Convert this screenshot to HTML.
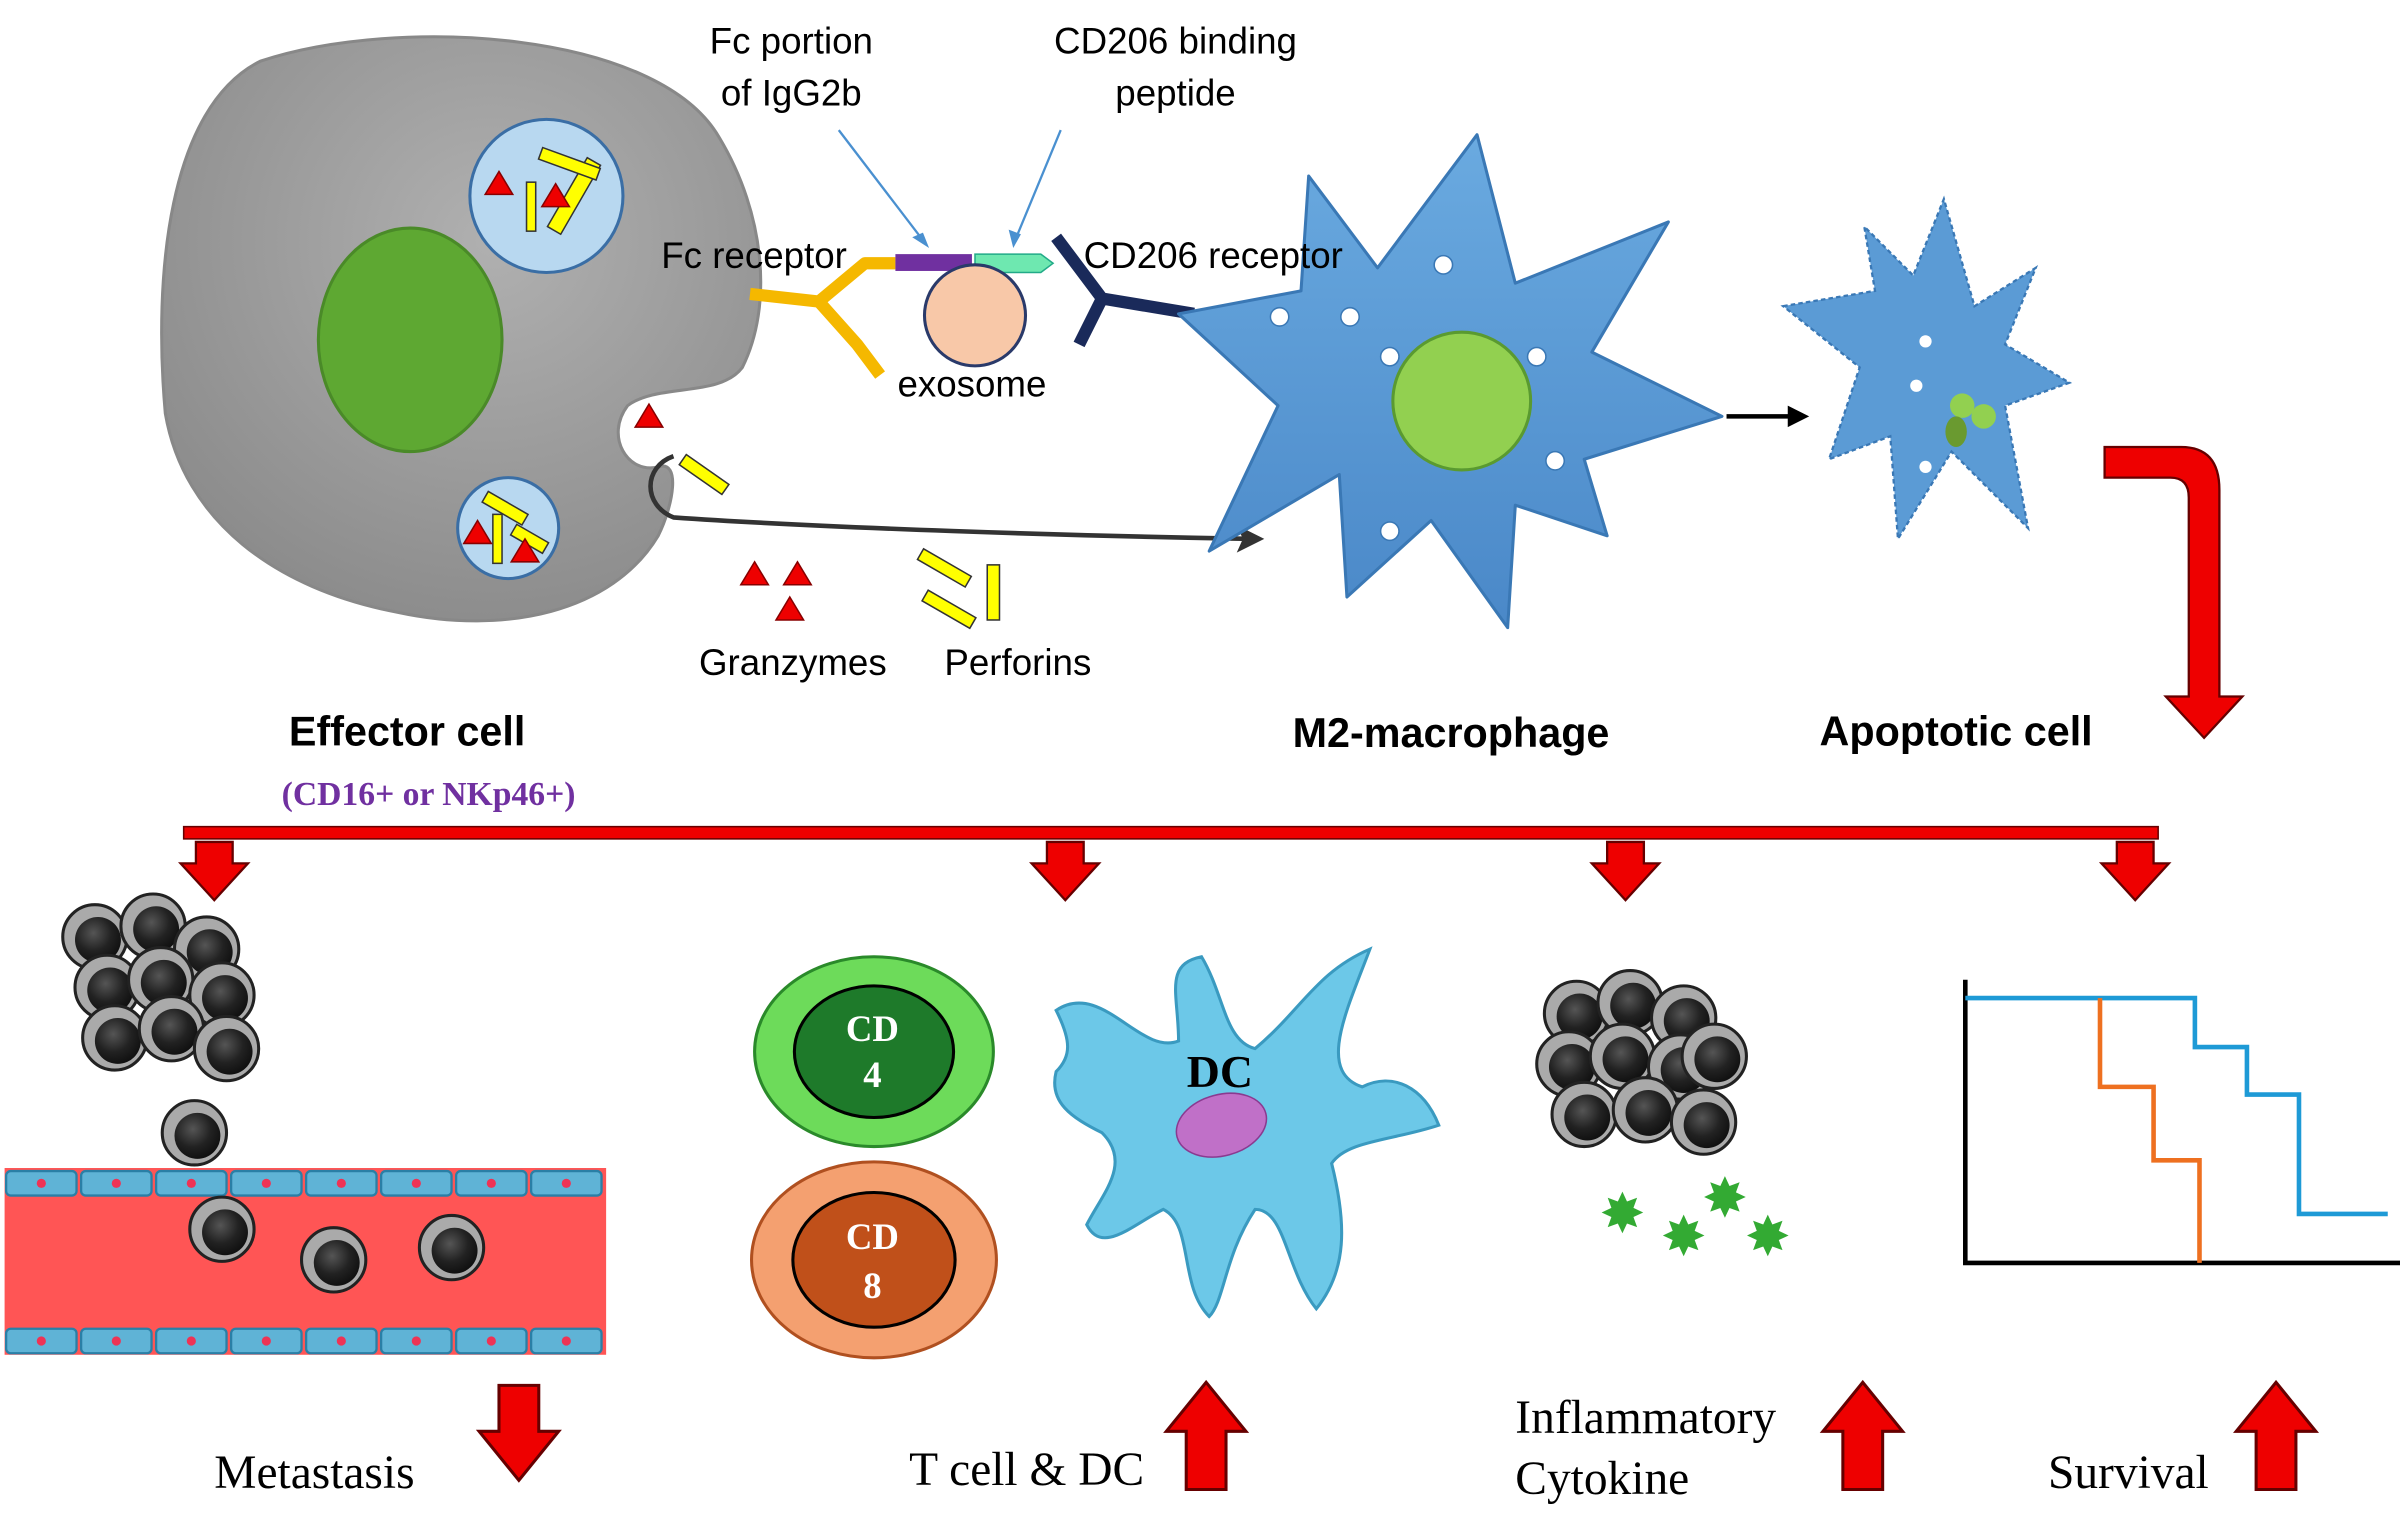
<!DOCTYPE html>
<html><head><meta charset="utf-8"><style>
html,body{margin:0;padding:0;background:#fff;}
svg{display:block}
.s{font-family:"Liberation Sans",sans-serif;}
.r{font-family:"Liberation Serif",serif;}
</style></head><body>
<svg width="2400" height="1540" viewBox="0 0 1568 1006" preserveAspectRatio="none" xmlns="http://www.w3.org/2000/svg">
<defs>
<radialGradient id="tc" cx="40%" cy="35%" r="65%"><stop offset="0" stop-color="#555"/><stop offset="0.6" stop-color="#222"/><stop offset="1" stop-color="#111"/></radialGradient>
<radialGradient id="gc" cx="55%" cy="35%" r="70%"><stop offset="0" stop-color="#b0b0b0"/><stop offset="1" stop-color="#8a8a8a"/></radialGradient>
<linearGradient id="mc" x1="0" y1="0" x2="0" y2="1"><stop offset="0" stop-color="#6aaae0"/><stop offset="1" stop-color="#4a88c8"/></linearGradient>
<g id="tum"><circle r="21" fill="#aaa" stroke="#222" stroke-width="2"/><circle r="15" cx="2" cy="2" fill="url(#tc)"/></g>
<g id="dn"><polygon points="-12,0 12,0 12,14 22,14 0,38 -22,14 -12,14" fill="#e00" stroke="#600" stroke-width="1.5"/></g>
<g id="up"><polygon points="-13,70 13,70 13,32 26,32 0,0 -26,32 -13,32" fill="#e00" stroke="#600" stroke-width="2"/></g>
<g id="yb"><rect x="-3" y="-16" width="6" height="32" fill="#ff0" stroke="#333" stroke-width="1"/></g>
<g id="rt"><polygon points="0,-8 9,7 -9,7" fill="#e00" stroke="#800" stroke-width="1"/></g>
<g id="ec"><rect x="0" y="0" width="46" height="16" rx="3" fill="#5fb3d6" stroke="#2a7fa6" stroke-width="1.5"/><circle cx="23" cy="8" r="3" fill="#e35"/></g>
</defs>
<rect width="1568" height="1006" fill="#fff"/>
<path d="M170,40 C260,10 430,20 470,90 C500,140 505,200 485,240 C470,260 430,250 410,265 C395,285 410,310 430,305 C445,300 440,330 430,350 C400,400 330,415 260,400 C180,385 120,340 108,270 C100,180 110,70 170,40 Z" fill="url(#gc)" stroke="#888" stroke-width="2"/>
<ellipse cx="268" cy="222" rx="60" ry="73" fill="#5ea832" stroke="#4a8a28" stroke-width="2"/>
<circle cx="357" cy="128" r="50" fill="#b8d8f0" stroke="#3a6ea5" stroke-width="2"/>
<g transform="translate(375,128) rotate(30)"><rect x="-5" y="-26" width="10" height="52" fill="#ff0" stroke="#333"/></g>
<g transform="translate(372,107) rotate(-70)"><rect x="-4" y="-20" width="8" height="40" fill="#ff0" stroke="#333"/></g>
<use href="#yb" x="347" y="135"/>
<use href="#rt" x="326" y="120"/><use href="#rt" x="363" y="128"/>
<circle cx="332" cy="345" r="33" fill="#b8d8f0" stroke="#3a6ea5" stroke-width="2"/>
<g transform="translate(330,332) rotate(-60)"><rect x="-4" y="-15" width="8" height="30" fill="#ff0" stroke="#333"/></g>
<g transform="translate(346,352) rotate(-60)"><rect x="-4" y="-12" width="8" height="24" fill="#ff0" stroke="#333"/></g>
<use href="#yb" x="325" y="352"/>
<use href="#rt" x="312" y="348"/><use href="#rt" x="343" y="360"/>
<use href="#rt" x="424" y="272"/>
<g transform="translate(460,310) rotate(35)"><rect x="-17" y="-4" width="34" height="8" fill="#ff0" stroke="#333"/></g>
<path d="M440,298 C420,305 420,330 440,338 C540,345 700,350 815,352" fill="none" stroke="#333" stroke-width="3"/>
<polygon points="826,352 808,343 812,352 808,361" fill="#333"/>
<path d="M490,192 L535,197 L565,172 L585,172 M535,197 L560,225 L575,245" fill="none" stroke="#f5b800" stroke-width="8" stroke-linejoin="round"/>
<rect x="585" y="166" width="50" height="11" fill="#7030a0"/>
<polygon points="637,166 680,166 688,172 680,178 637,178" fill="#6ee8b0" stroke="#2a8" stroke-width="1"/>
<circle cx="637" cy="206" r="33" fill="#f8c8a8" stroke="#2a3a6a" stroke-width="2"/>
<path d="M690,155 L720,195 L705,225 M720,195 L780,205" fill="none" stroke="#1a2a5a" stroke-width="8" stroke-linejoin="round"/>
<line x1="548" y1="85" x2="603" y2="157" stroke="#4a90d0" stroke-width="1.5"/><polygon points="607,162 596,155 603,152" fill="#4a90d0"/>
<line x1="693" y1="85" x2="664" y2="155" stroke="#4a90d0" stroke-width="1.5"/><polygon points="662,162 659,150 667,153" fill="#4a90d0"/>
<path d="M770,205 L850,190 L855,115 L900,175 L965,88 L990,185 L1090,145 L1040,230 L1125,272 L1035,300 L1050,350 L990,330 L985,410 L935,340 L880,390 L875,310 L790,360 L835,265 Z" fill="url(#mc)" stroke="#3a78b5" stroke-width="2" stroke-linejoin="round"/>
<circle cx="955" cy="262" r="45" fill="#92d050" stroke="#5a9a30" stroke-width="2"/>
<g fill="#fff" stroke="#3a78b5"><circle cx="943" cy="173" r="6"/><circle cx="836" cy="207" r="6"/><circle cx="882" cy="207" r="6"/><circle cx="908" cy="233" r="6"/><circle cx="1004" cy="233" r="6"/><circle cx="1016" cy="301" r="6"/><circle cx="908" cy="347" r="6"/></g>
<line x1="1128" y1="272" x2="1170" y2="272" stroke="#000" stroke-width="3"/><polygon points="1182,272 1168,265 1168,279" fill="#000"/>
<path d="M1165,200 L1225,190 L1218,148 L1250,180 L1270,130 L1290,200 L1330,175 L1310,225 L1352,250 L1310,265 L1325,345 L1275,295 L1240,352 L1235,285 L1195,300 L1215,240 Z" fill="#5b9bd5" stroke="#3a78b5" stroke-width="1.5" stroke-dasharray="3,2"/>
<circle cx="1282" cy="265" r="8" fill="#92d050"/><circle cx="1296" cy="272" r="8" fill="#92d050"/><ellipse cx="1278" cy="282" rx="7" ry="10" fill="#6a9a30"/>
<g fill="#fff"><circle cx="1258" cy="223" r="4"/><circle cx="1320" cy="222" r="4"/><circle cx="1252" cy="252" r="4"/><circle cx="1323" cy="270" r="4"/><circle cx="1258" cy="305" r="4"/></g>
<path d="M1375,292 L1425,292 Q1450,292 1450,320 L1450,455 L1465,455 L1440,482 L1415,455 L1430,455 L1430,325 Q1430,312 1418,312 L1375,312 Z" fill="#e00" stroke="#600" stroke-width="1.5"/>
<g class="s" font-size="24" fill="#000">
<text x="517" y="35" text-anchor="middle">Fc portion</text><text x="517" y="69" text-anchor="middle">of IgG2b</text>
<text x="768" y="35" text-anchor="middle">CD206 binding</text><text x="768" y="69" text-anchor="middle">peptide</text>
<text x="432" y="175">Fc receptor</text>
<text x="708" y="175">CD206 receptor</text>
<text x="635" y="259" text-anchor="middle">exosome</text>
<text x="518" y="441" text-anchor="middle">Granzymes</text>
<text x="665" y="441" text-anchor="middle">Perforins</text>
</g>
<use href="#rt" x="493" y="375"/><use href="#rt" x="521" y="375"/><use href="#rt" x="516" y="398"/>
<g transform="translate(617,371) rotate(30)"><rect x="-18" y="-4" width="36" height="8" fill="#ff0" stroke="#333"/></g>
<g transform="translate(620,398) rotate(30)"><rect x="-18" y="-4" width="36" height="8" fill="#ff0" stroke="#333"/></g>
<rect x="645" y="369" width="8" height="36" fill="#ff0" stroke="#333"/>
<g class="s" font-size="27" font-weight="bold">
<text x="266" y="487" text-anchor="middle">Effector cell</text>
<text x="948" y="488" text-anchor="middle">M2-macrophage</text>
<text x="1278" y="487" text-anchor="middle">Apoptotic cell</text>
</g>
<text class="r" x="280" y="526" text-anchor="middle" font-size="22" font-weight="bold" fill="#7030a0">(CD16+ or NKp46+)</text>
<rect x="120" y="540" width="1290" height="8" fill="#e00" stroke="#600" stroke-width="1"/>
<use href="#dn" x="140" y="550"/><use href="#dn" x="696" y="550"/><use href="#dn" x="1062" y="550"/><use href="#dn" x="1395" y="550"/>
<rect x="3" y="763" width="393" height="122" fill="#f55" />
<g><use href="#ec" x="4" y="765"/><use href="#ec" x="53" y="765"/><use href="#ec" x="102" y="765"/><use href="#ec" x="151" y="765"/><use href="#ec" x="200" y="765"/><use href="#ec" x="249" y="765"/><use href="#ec" x="298" y="765"/><use href="#ec" x="347" y="765"/>
<use href="#ec" x="4" y="868"/><use href="#ec" x="53" y="868"/><use href="#ec" x="102" y="868"/><use href="#ec" x="151" y="868"/><use href="#ec" x="200" y="868"/><use href="#ec" x="249" y="868"/><use href="#ec" x="298" y="868"/><use href="#ec" x="347" y="868"/></g>
<g><use href="#tum" x="62" y="612"/><use href="#tum" x="100" y="605"/><use href="#tum" x="135" y="620"/><use href="#tum" x="70" y="645"/><use href="#tum" x="105" y="640"/><use href="#tum" x="145" y="650"/><use href="#tum" x="75" y="678"/><use href="#tum" x="112" y="672"/><use href="#tum" x="148" y="685"/>
<use href="#tum" x="127" y="740"/><use href="#tum" x="145" y="803"/><use href="#tum" x="218" y="823"/><use href="#tum" x="295" y="815"/></g>
<ellipse cx="571" cy="687" rx="78" ry="62" fill="#6ddb5a" stroke="#2a8a2a" stroke-width="2"/>
<ellipse cx="571" cy="687" rx="52" ry="43" fill="#1e7a2a" stroke="#000" stroke-width="2"/>
<ellipse cx="571" cy="823" rx="80" ry="64" fill="#f4a070" stroke="#b05020" stroke-width="2"/>
<ellipse cx="571" cy="823" rx="53" ry="44" fill="#c0501a" stroke="#000" stroke-width="2"/>
<g class="r" font-size="24" font-weight="bold" fill="#fff" text-anchor="middle">
<text x="570" y="680">CD</text><text x="570" y="710">4</text><text x="570" y="816">CD</text><text x="570" y="848">8</text></g>
<path d="M690,660 C720,640 745,690 770,680 C770,650 760,630 785,625 C800,650 800,680 820,685 C850,660 860,635 895,620 C880,660 860,700 890,710 C910,700 930,710 940,735 C910,745 880,745 870,760 C880,800 880,830 860,855 C840,830 840,790 820,790 C800,820 800,850 790,860 C770,840 780,800 760,790 C740,800 720,820 710,800 C720,780 740,760 720,740 C700,730 685,720 690,700 C700,690 700,680 690,660 Z" fill="#6cc8e8" stroke="#3a9ac0" stroke-width="2"/>
<ellipse cx="798" cy="735" rx="30" ry="20" transform="rotate(-15 798 735)" fill="#c070c8" stroke="#8a3a90"/>
<text class="r" x="797" y="710" font-size="30" font-weight="bold" text-anchor="middle">DC</text>
<g><use href="#tum" x="1030" y="662"/><use href="#tum" x="1065" y="655"/><use href="#tum" x="1100" y="665"/><use href="#tum" x="1025" y="695"/><use href="#tum" x="1060" y="690"/><use href="#tum" x="1098" y="697"/><use href="#tum" x="1120" y="690"/><use href="#tum" x="1035" y="728"/><use href="#tum" x="1075" y="725"/><use href="#tum" x="1113" y="733"/></g>
<g fill="#3a3" font-size="36" text-anchor="middle" class="s"><text x="1060" y="805">✸</text><text x="1127" y="795">✸</text><text x="1100" y="820">✸</text><text x="1155" y="820">✸</text></g>
<polyline points="1284,640 1284,825 1568,825" fill="none" stroke="#000" stroke-width="3"/>
<polyline points="1284,652 1434,652 1434,684 1468,684 1468,715 1502,715 1502,793 1560,793" fill="none" stroke="#1e9ad6" stroke-width="3"/>
<polyline points="1372,652 1372,710 1407,710 1407,758 1437,758 1437,825" fill="none" stroke="#ee7020" stroke-width="3"/>
<g transform="translate(339,905)"><polygon points="-13,0 13,0 13,30 26,30 0,62 -26,30 -13,30" fill="#e00" stroke="#600" stroke-width="2"/></g>
<use href="#up" x="788" y="903"/><use href="#up" x="1217" y="903"/><use href="#up" x="1487" y="903"/>
<g class="r" font-size="31" fill="#000">
<text x="140" y="972">Metastasis</text>
<text x="594" y="970">T cell &amp; DC</text>
<text x="990" y="936">Inflammatory</text><text x="990" y="976">Cytokine</text>
<text x="1338" y="972">Survival</text>
</g>
</svg>
</body></html>
